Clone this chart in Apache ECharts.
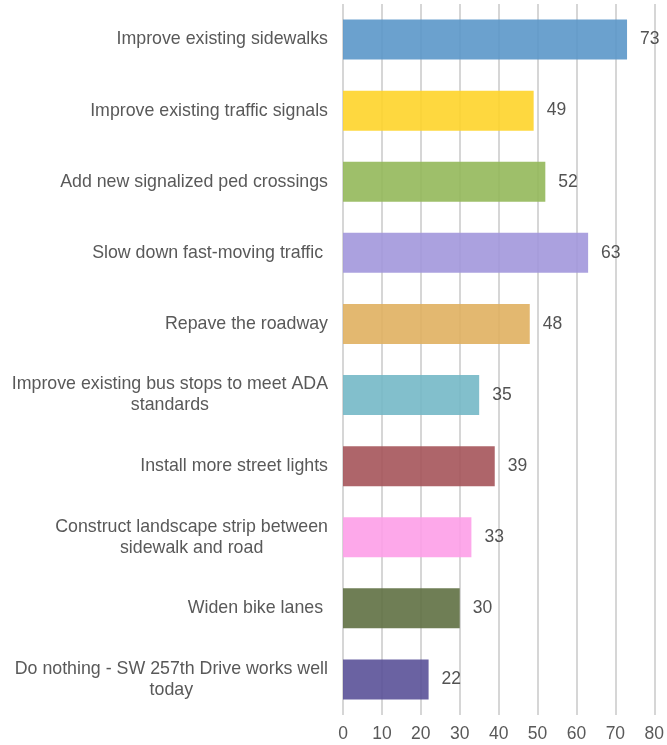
<!DOCTYPE html>
<html>
<head>
<meta charset="utf-8">
<script src="https://cdn.jsdelivr.net/npm/echarts@6/dist/echarts.min.js"></script>
<style>
  html, body { margin: 0; padding: 0; background: #fff; }
  #chart { width: 667px; height: 745px; }
</style>
</head>
<body>
<div id="chart"></div>
<script>
var categories = [
    'Improve existing sidewalks',
    'Improve existing traffic signals',
    'Add new signalized ped crossings',
    'Slow down fast-moving traffic ',
    'Repave the roadway',
    'Improve existing bus stops to meet ADA\nstandards',
    'Install more street lights',
    'Construct landscape strip between\nsidewalk and road',
    'Widen bike lanes ',
    'Do nothing - SW 257th Drive works well\ntoday'
];
var values = [73, 49, 52, 63, 48, 35, 39, 33, 30, 22];
var barColors = ['#5b97c9', '#fed42a', '#94b85a', '#a297dc', '#e0b060',
                 '#74b8c6', '#a5545a', '#fd9ee8', '#5f7043', '#5a5198'];
var xTicks = [0, 10, 20, 30, 40, 50, 60, 70, 80];

var chart = echarts.init(document.getElementById('chart'));

var option = {
    animation: false,
    grid: {
        left: 343,
        right: 10,
        top: 4,
        bottom: 30
    },
    xAxis: {
        type: 'value',
        min: xTicks[0],
        max: xTicks[xTicks.length - 1],
        interval: 10,
        axisLine: { show: false },
        axisTick: { show: false },
        axisLabel: {
            color: '#595959',
            fontSize: 17.5,
            fontFamily: 'Liberation Sans, Arial, sans-serif',
            margin: 10
        },
        splitLine: {
            show: true,
            lineStyle: { color: '#c9c9c9', width: 1.5 }
        }
    },
    yAxis: {
        type: 'category',
        inverse: true,
        data: categories,
        axisLine: { show: false },
        axisTick: { show: false },
        axisLabel: {
            margin: 15,
            formatter: function (val) {
                return val.split('\n').map(function (s) { return '{c|' + s + '}'; }).join('\n');
            },
            rich: {
                c: {
                    align: 'center',
                    color: '#595959',
                    fontSize: 17.8,
                    lineHeight: 21,
                    fontFamily: 'Liberation Sans, Arial, sans-serif'
                }
            }
        }
    },
    series: [{
        type: 'bar',
        barWidth: 40,
        data: values.map(function (v, i) {
            return { value: v, itemStyle: { color: barColors[i] } };
        }),
        itemStyle: { opacity: 0.9 },
        label: {
            show: true,
            position: 'right',
            distance: 13,
            color: '#404040',
            fontSize: 17.5,
            fontFamily: 'Liberation Sans, Arial, sans-serif'
        }
    }]
};

chart.setOption(option);
</script>
</body>
</html>
